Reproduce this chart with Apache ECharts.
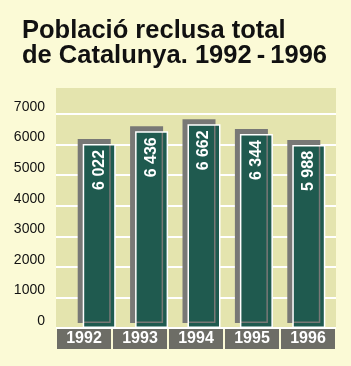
<!DOCTYPE html>
<html>
<head>
<meta charset="utf-8">
<script src="https://cdn.jsdelivr.net/npm/echarts@6/dist/echarts.min.js"></script>
<style>
    html, body { margin: 0; padding: 0; background: #fbfad6; }
    #chart { width: 351px; height: 366px; }
</style>
</head>
<body>
<div id="chart"></div>
<script>
const years = ['1992', '1993', '1994', '1995', '1996'];
const inmates = [6022, 6436, 6662, 6344, 5988];
const yTicks = [0, 1000, 2000, 3000, 4000, 5000, 6000, 7000];

// 6022 -> "6 022"
function spaced(v) {
    return String(v).replace(/\B(?=(\d{3})+(?!\d))/g, ' ');
}

let myChart = echarts.init(document.getElementById('chart'));
let option = {
    backgroundColor: '#fbfad6',
    textStyle: { fontFamily: 'Liberation Sans' },
    title: {
        text: 'Població reclusa total\nde Catalunya. 1992\u2009-\u20091996',
        left: 22,
        top: 18,
        padding: 0,
        textStyle: {
            fontSize: 25.5,
            fontWeight: 'bold',
            lineHeight: 25,
            color: '#111',
            fontFamily: 'Liberation Sans'
        }
    },
    grid: [
        // plot background, reaches a bit above the 7000 line
        { show: true, left: 56, right: 15, top: 88, bottom: 38, backgroundColor: '#e4e4ae', borderWidth: 0 },
        // axes + gridlines
        { left: 56, right: 15, top: 114, bottom: 38 },
        // bars
        { left: 73, width: 262, top: 114, bottom: 38 }
    ],
    xAxis: [
        {
            gridIndex: 1,
            type: 'category',
            data: years,
            axisLine: { show: false },
            axisTick: { show: false },
            axisLabel: {
                margin: 1,
                width: 54,
                height: 20,
                lineHeight: 20,
                align: 'center',
                backgroundColor: '#6d6d66',
                color: '#fff',
                fontSize: 16,
                fontWeight: 'bold'
            }
        },
        {
            gridIndex: 2,
            type: 'category',
            data: years,
            show: false
        }
    ],
    yAxis: [
        {
            gridIndex: 1,
            type: 'value',
            min: yTicks[0],
            max: yTicks[yTicks.length - 1],
            interval: 1000,
            axisLine: { show: false },
            axisTick: { show: false },
            axisLabel: {
                margin: 11,
                fontSize: 14,
                color: '#111',
                verticalAlign: 'bottom',
                formatter: (v) => String(v)
            },
            splitLine: { lineStyle: { color: '#ffffff', width: 2 } }
        },
        {
            gridIndex: 2,
            type: 'value',
            min: yTicks[0],
            max: yTicks[yTicks.length - 1],
            show: false
        }
    ],
    series: [
        {
            type: 'bar',
            xAxisIndex: 1,
            yAxisIndex: 1,
            data: inmates,
            barWidth: 33,
            itemStyle: {
                color: '#1f5a4f',
                borderColor: '#ffffff',
                borderWidth: 1.5,
                shadowColor: '#787876',
                shadowOffsetX: -5,
                shadowOffsetY: -5,
                shadowBlur: 0
            },
            label: {
                show: true,
                position: 'insideTop',
                distance: 6,
                rotate: 90,
                align: 'right',
                verticalAlign: 'middle',
                color: '#fff',
                fontSize: 16,
                fontWeight: 'bold',
                formatter: (p) => spaced(p.value)
            }
        }
    ]
};
myChart.setOption(option);
</script>
</body>
</html>
